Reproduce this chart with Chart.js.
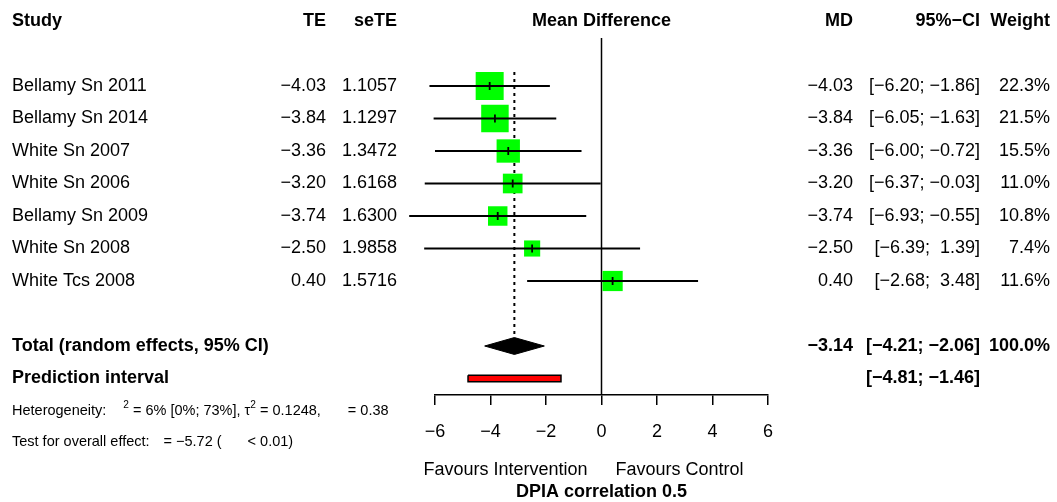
<!DOCTYPE html>
<html>
<head>
<meta charset="utf-8">
<script src="https://cdn.jsdelivr.net/npm/chart.js@4.4.1/dist/chart.umd.min.js"></script>
<style>
  html, body { margin: 0; padding: 0; background: #fff; }
  #wrap { width: 1057px; height: 502px; }
</style>
</head>
<body>
<div id="wrap"><canvas id="forest" width="1057" height="502"></canvas></div>
<script>
// study level data
const studies = ['Bellamy Sn 2011', 'Bellamy Sn 2014', 'White Sn 2007', 'White Sn 2006', 'Bellamy Sn 2009', 'White Sn 2008', 'White Tcs 2008'];
const te = [-4.03, -3.84, -3.36, -3.20, -3.74, -2.50, 0.40];
const seTE = [1.1057, 1.1297, 1.3472, 1.6168, 1.6300, 1.9858, 1.5716];
const ciLower = [-6.20, -6.05, -6.00, -6.37, -6.93, -6.39, -2.68];
const ciUpper = [-1.86, -1.63, -0.72, -0.03, -0.55, 1.39, 3.48];
const weights = [22.3, 21.5, 15.5, 11.0, 10.8, 7.4, 11.6];

// pooled result
const pooledMD = -3.14;
const pooledCI = [-4.21, -2.06];
const predInterval = [-4.81, -1.46];

const xTicks = [-6, -4, -2, 0, 2, 4, 6];

// layout: row r sits at ROW0 + r * ROW_H pixels
const ROW0 = 21, ROW_H = 32.5, AXIS_PX = 395, H = 502;
const yMin = (0 - ROW0) / ROW_H;
const yMax = (AXIS_PX - ROW0) / ROW_H;
const FIRST_ROW = 2, TOTAL_ROW = 10, PRED_ROW = 11;

const FONT = '"Liberation Sans", Arial, Helvetica, sans-serif';

function fmt(v) {
    return (v < 0 ? '\u2212' : '') + Math.abs(v).toFixed(2);
}
function fmtCI(lo, hi) {
    let a = fmt(lo), b = fmt(hi);
    if (lo >= 0) a = ' ' + a;
    if (hi >= 0) b = ' ' + b;
    return '[' + a + '; ' + b + ']';
}

let datasets = [];

// little black tick at each estimate
datasets.push({
    type: 'scatter',
    data: te.map((x, i) => ({ x: x, y: FIRST_ROW + i })),
    pointStyle: 'line',
    rotation: 90,
    pointRadius: 4,
    borderColor: '#000',
    borderWidth: 1.8,
    order: 0
});

// confidence intervals (may run past the axis range, so no clipping)
studies.forEach((s, i) => {
    datasets.push({
        type: 'line',
        data: [{ x: ciLower[i], y: FIRST_ROW + i }, { x: ciUpper[i], y: FIRST_ROW + i }],
        borderColor: '#000',
        borderWidth: 1.8,
        pointRadius: 0,
        clip: false,
        order: 1
    });
});

// weighted squares
datasets.push({
    type: 'scatter',
    data: te.map((x, i) => ({ x: x, y: FIRST_ROW + i })),
    pointStyle: 'rect',
    pointRadius: weights.map(w => 5.93 * Math.sqrt(w) / Math.SQRT2),
    backgroundColor: '#00ff00',
    borderWidth: 0,
    clip: false,
    order: 2
});

// dotted line at pooled estimate
datasets.push({
    type: 'line',
    data: [{ x: pooledMD, y: 1.57 }, { x: pooledMD, y: 9.7 }],
    borderColor: '#000',
    borderWidth: 2,
    borderDash: [3, 4],
    pointRadius: 0,
    order: 3
});

// line of no effect
datasets.push({
    type: 'line',
    data: [{ x: 0, y: 0.52 }, { x: 0, y: yMax }],
    borderColor: '#000',
    borderWidth: 1.5,
    pointRadius: 0,
    order: 3
});

// pooled diamond
const dh = 0.26;
datasets.push({
    type: 'line',
    data: [
        { x: pooledCI[0], y: TOTAL_ROW },
        { x: pooledMD, y: TOTAL_ROW - dh },
        { x: pooledCI[1], y: TOTAL_ROW },
        { x: pooledMD, y: TOTAL_ROW + dh },
        { x: pooledCI[0], y: TOTAL_ROW }
    ],
    fill: 'shape',
    backgroundColor: '#000',
    borderColor: '#000',
    borderWidth: 1,
    pointRadius: 0,
    order: 3
});

// prediction interval bar
const ph = 0.1;
datasets.push({
    type: 'line',
    data: [
        { x: predInterval[0], y: PRED_ROW - ph },
        { x: predInterval[1], y: PRED_ROW - ph },
        { x: predInterval[1], y: PRED_ROW + ph },
        { x: predInterval[0], y: PRED_ROW + ph },
        { x: predInterval[0], y: PRED_ROW - ph }
    ],
    fill: 'shape',
    backgroundColor: '#ff0000',
    borderColor: '#000',
    borderWidth: 1.5,
    pointRadius: 0,
    order: 3
});

function drawRich(ctx, x, y, parts, size) {
    ctx.textAlign = 'left';
    parts.forEach(p => {
        if (p.gap) { x += p.gap; return; }
        let sz = p.sup ? size * 0.7 : size;
        ctx.font = sz + 'px ' + FONT;
        ctx.fillText(p.t, x, p.sup ? y - size * 0.42 : y);
        x += ctx.measureText(p.t).width;
    });
}

const textPlugin = {
    id: 'forestText',
    afterDraw: (chart) => {
        let ctx = chart.ctx;
        let yPx = r => chart.scales.y.getPixelForValue(r);
        let zeroPx = chart.scales.x.getPixelForValue(0);
        ctx.save();
        ctx.fillStyle = '#000';
        ctx.textBaseline = 'middle';

        function txt(s, x, r, align, bold, size) {
            ctx.font = (bold ? 'bold ' : '') + (size || 18) + 'px ' + FONT;
            ctx.textAlign = align;
            ctx.fillText(s, x, yPx(r));
        }

        // header
        txt('Study', 12, 0, 'left', true);
        txt('TE', 326, 0, 'right', true);
        txt('seTE', 397, 0, 'right', true);
        txt('Mean Difference', zeroPx, 0, 'center', true);
        txt('MD', 853, 0, 'right', true);
        txt('95%\u2212CI', 980, 0, 'right', true);
        txt('Weight', 1050, 0, 'right', true);

        // studies
        studies.forEach((s, i) => {
            let r = FIRST_ROW + i;
            txt(s, 12, r, 'left');
            txt(fmt(te[i]), 326, r, 'right');
            txt(seTE[i].toFixed(4), 397, r, 'right');
            txt(fmt(te[i]), 853, r, 'right');
            txt(fmtCI(ciLower[i], ciUpper[i]), 980, r, 'right');
            txt(weights[i].toFixed(1) + '%', 1050, r, 'right');
        });

        // pooled
        txt('Total (random effects, 95% CI)', 12, TOTAL_ROW, 'left', true);
        txt(fmt(pooledMD), 853, TOTAL_ROW, 'right', true);
        txt(fmtCI(pooledCI[0], pooledCI[1]), 980, TOTAL_ROW, 'right', true);
        txt('100.0%', 1050, TOTAL_ROW, 'right', true);
        txt('Prediction interval', 12, PRED_ROW, 'left', true);
        txt(fmtCI(predInterval[0], predInterval[1]), 980, PRED_ROW, 'right', true);

        // heterogeneity lines
        drawRich(ctx, 12, yPx(12), [
            { t: 'Heterogeneity:' }, { gap: 17 }, { t: '2', sup: true },
            { t: ' = 6% [0%; 73%], \u03c4' }, { t: '2', sup: true },
            { t: ' = 0.1248,' }, { gap: 27 }, { t: '= 0.38' }
        ], 14.5);
        drawRich(ctx, 12, yPx(12.95), [
            { t: 'Test for overall effect:' }, { gap: 14 }, { t: '= \u22125.72 (' },
            { gap: 26 }, { t: '< 0.01)' }
        ], 14.5);

        // axis captions
        txt('Favours Intervention', zeroPx - 14, 13.82, 'right');
        txt('Favours Control', zeroPx + 14, 13.82, 'left');
        txt('DPIA correlation 0.5', zeroPx, 14.49, 'center', true);
        ctx.restore();
    }
};

new Chart(document.getElementById('forest'), {
    type: 'scatter',
    data: { datasets: datasets },
    options: {
        responsive: false,
        animation: false,
        layout: { autoPadding: false, padding: { left: 435, right: 289, top: 0, bottom: 0 } },
        plugins: { legend: { display: false }, tooltip: { enabled: false } },
        scales: {
            x: {
                type: 'linear',
                min: -6,
                max: 6,
                afterBuildTicks: (s) => { s.ticks = xTicks.map(v => ({ value: v })); },
                afterFit: (s) => { s.height = H - AXIS_PX; },
                ticks: {
                    color: '#000',
                    font: { family: FONT, size: 18 },
                    padding: 16,
                    maxRotation: 0,
                    callback: (v) => (v < 0 ? '\u2212' : '') + Math.abs(v)
                },
                grid: { drawOnChartArea: false, drawTicks: true, tickLength: 10, color: '#000', lineWidth: 1.5 },
                border: { display: true, color: '#000', width: 1.5 }
            },
            y: {
                type: 'linear',
                display: false,
                reverse: true,
                min: yMin,
                max: yMax
            }
        }
    },
    plugins: [textPlugin]
});
</script>
</body>
</html>
